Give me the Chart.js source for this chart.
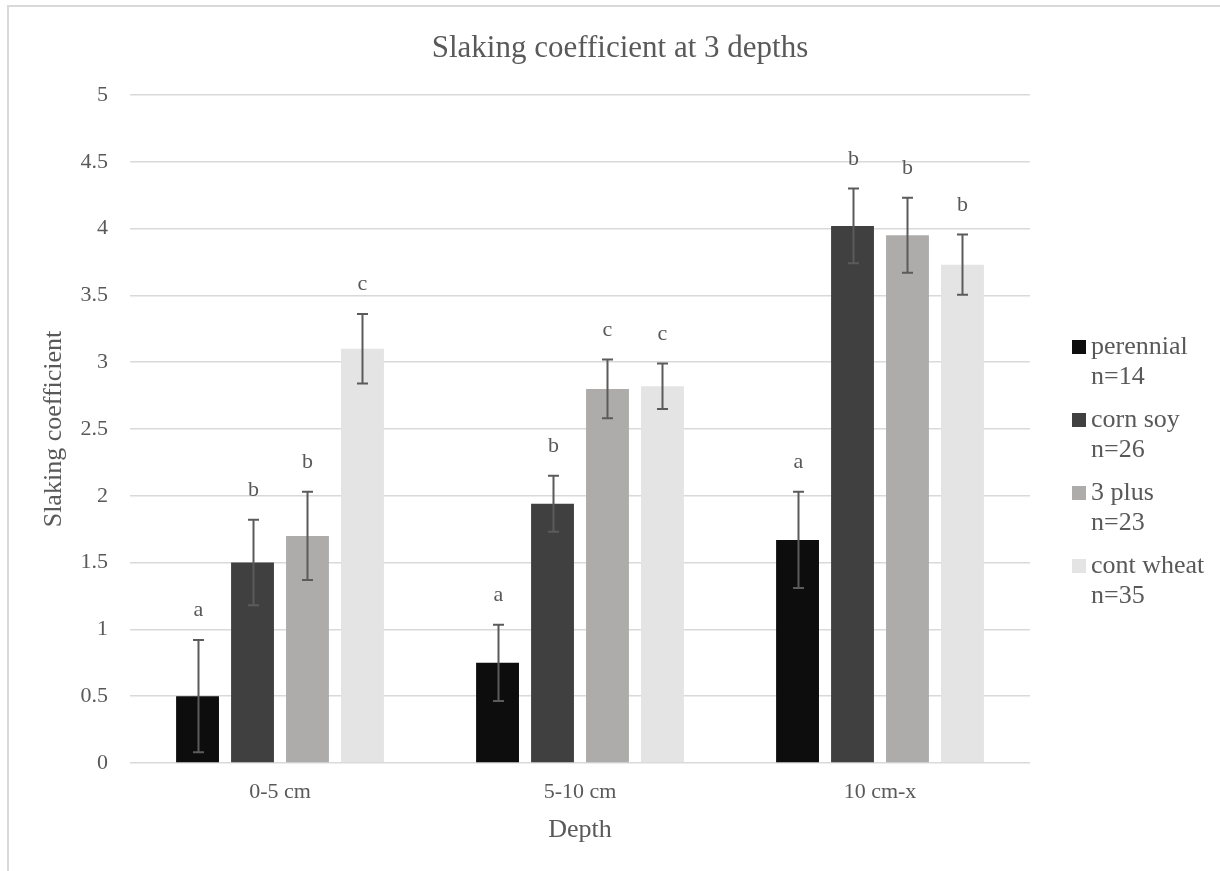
<!DOCTYPE html>
<html>
<head>
<meta charset="utf-8">
<script src="https://cdn.jsdelivr.net/npm/chart.js@4.4.1/dist/chart.umd.min.js"></script>
<style>
  html, body { margin: 0; padding: 0; background: #ffffff; }
  #wrap { position: relative; width: 1220px; height: 871px; overflow: hidden; }
  #wrap canvas { position: absolute; left: 0; top: 0; }
  #frame { position: absolute; left: 7px; top: 5px; width: 1400px; height: 1000px;
           border-top: 2px solid #d9d9d9; border-left: 2px solid #d9d9d9; pointer-events: none; }
</style>
</head>
<body>
<div id="wrap">
  <canvas id="chart" width="1220" height="871"></canvas>
  <div id="frame"></div>
</div>
<script>
// Depth classes on the x axis
const depths = ['0-5 cm', '5-10 cm', '10 cm-x'];

// Rotation treatments and their sample sizes
const seriesNames = ['perennial', 'corn soy', '3 plus', 'cont wheat'];
const sampleSizes = ['n=14', 'n=26', 'n=23', 'n=35'];
const seriesColors = ['#0d0d0d', '#404040', '#aeabab', '#e4e4e4'];

// Mean slaking coefficient per depth
const perennial = [0.50, 0.75, 1.67];
const cornSoy   = [1.50, 1.94, 4.02];
const threePlus = [1.70, 2.80, 3.95];
const contWheat = [3.10, 2.82, 3.73];

// Error bar half-widths (±)
const perennialErr = [0.42, 0.285, 0.36];
const cornSoyErr   = [0.32, 0.21, 0.28];
const threePlusErr = [0.33, 0.22, 0.28];
const contWheatErr = [0.26, 0.17, 0.225];

// Significance letters above each bar
const perennialGroups = ['a', 'a', 'a'];
const cornSoyGroups   = ['b', 'b', 'b'];
const threePlusGroups = ['b', 'c', 'b'];
const contWheatGroups = ['c', 'c', 'b'];

// Y axis tick labels
const yTickLabels = ['0', '0.5', '1', '1.5', '2', '2.5', '3', '3.5', '4', '4.5', '5'];

const seriesValues = [perennial, cornSoy, threePlus, contWheat];
const seriesErrors = [perennialErr, cornSoyErr, threePlusErr, contWheatErr];
const seriesGroups = [perennialGroups, cornSoyGroups, threePlusGroups, contWheatGroups];

const SERIF = "'Liberation Serif', 'Times New Roman', serif";
const TEXT = '#595959';
Chart.defaults.font.family = SERIF;
Chart.defaults.color = TEXT;

// Error bars with caps, plus the group letters above them
const errorBarPlugin = {
  id: 'errorBars',
  afterDatasetsDraw(chart) {
    const ctx = chart.ctx;
    const y = chart.scales.y;
    ctx.save();
    chart.data.datasets.forEach((ds, i) => {
      const meta = chart.getDatasetMeta(i);
      meta.data.forEach((bar, j) => {
        const v = ds.data[j];
        const e = seriesErrors[i][j];
        const top = y.getPixelForValue(v + e);
        const bot = y.getPixelForValue(v - e);
        const x = Math.round(bar.x) + 0.5;
        ctx.strokeStyle = '#5b5b5b';
        ctx.lineWidth = 2;
        ctx.beginPath();
        ctx.moveTo(x, top); ctx.lineTo(x, bot);
        ctx.moveTo(x - 5.5, top); ctx.lineTo(x + 5.5, top);
        ctx.moveTo(x - 5.5, bot); ctx.lineTo(x + 5.5, bot);
        ctx.stroke();
        ctx.fillStyle = TEXT;
        ctx.font = '22px ' + SERIF;
        ctx.textAlign = 'center';
        ctx.textBaseline = 'alphabetic';
        ctx.fillText(seriesGroups[i][j], x, top - 24);
      });
    });
    ctx.restore();
  }
};

// Two-line legend to the right of the plot
const sideLegendPlugin = {
  id: 'sideLegend',
  afterDraw(chart) {
    const ctx = chart.ctx;
    const area = chart.chartArea;
    const x0 = area.right + 42;
    ctx.save();
    ctx.font = '26px ' + SERIF;
    ctx.textAlign = 'left';
    ctx.textBaseline = 'alphabetic';
    chart.data.datasets.forEach((ds, i) => {
      const base = area.top + 259 + i * 73;
      ctx.fillStyle = ds.backgroundColor;
      ctx.fillRect(x0, base - 14, 14, 14);
      ctx.fillStyle = TEXT;
      ctx.fillText(seriesNames[i], x0 + 19, base);
      ctx.fillText(sampleSizes[i], x0 + 19, base + 30);
    });
    ctx.restore();
  }
};

new Chart(document.getElementById('chart'), {
  type: 'bar',
  data: {
    labels: depths,
    datasets: seriesNames.map((name, i) => ({
      label: name,
      data: seriesValues[i],
      backgroundColor: seriesColors[i],
      borderWidth: 0,
      categoryPercentage: 0.733,
      barPercentage: 0.78
    }))
  },
  options: {
    responsive: false,
    animation: false,
    events: [],
    layout: { padding: { left: 20, right: 0, top: 0, bottom: 0 } },
    plugins: {
      legend: { display: false },
      tooltip: { enabled: false },
      title: {
        display: true,
        text: 'Slaking coefficient at 3 depths',
        color: TEXT,
        font: { size: 31, weight: 'normal' },
        padding: { top: 30, bottom: 27.8 }
      }
    },
    scales: {
      x: {
        grid: { display: false, drawTicks: false },
        border: { display: false },
        ticks: { color: TEXT, font: { size: 22 }, padding: 16 },
        title: { display: true, text: 'Depth', color: TEXT, font: { size: 26 }, padding: { top: 7, bottom: 25 } },
        afterFit(s) { s.height = 108; }
      },
      y: {
        min: 0,
        max: 5,
        grid: { color: '#d9d9d9', lineWidth: 1.5, drawTicks: false },
        border: { display: false },
        ticks: {
          stepSize: 0.5,
          color: TEXT,
          font: { size: 22 },
          padding: 22,
          callback: (v, i) => yTickLabels[i]
        },
        title: { display: true, text: 'Slaking coefficient', color: TEXT, font: { size: 26 }, padding: { top: 19, bottom: 0 } },
        afterFit(s) { s.width = 110; }
      },
      legendSpace: {
        type: 'linear',
        position: 'right',
        display: true,
        grid: { display: false },
        border: { display: false },
        ticks: { display: false },
        afterFit(s) { s.width = 190; }
      }
    }
  },
  plugins: [errorBarPlugin, sideLegendPlugin]
});
</script>
</body>
</html>
